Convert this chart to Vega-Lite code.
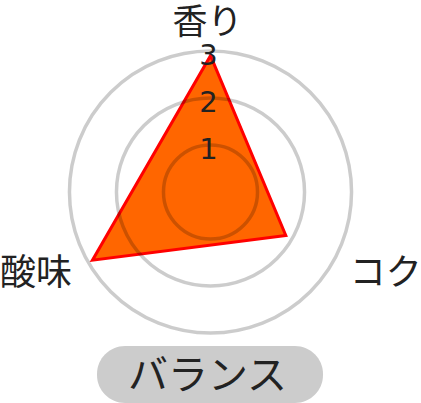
{
  "$schema": "https://vega.github.io/schema/vega-lite/v6.json",
  "width": 421,
  "height": 384,
  "autosize": {"type": "none"},
  "padding": {"left": 0, "top": 0, "right": 0, "bottom": 19},
  "background": "white",
  "config": {"view": {"stroke": null}, "text": {"font": "Noto Sans CJK JP", "color": "#222222"}},
  "datasets": {
    "scores": [
      {"axis": "香り", "idx": 0, "value": 2.9},
      {"axis": "コク", "idx": 1, "value": 1.85},
      {"axis": "酸味", "idx": 2, "value": 2.9}
    ],
    "rings": [{"r": 1}, {"r": 2}, {"r": 3}],
    "badge": [{"label": "バランス"}]
  },
  "layer": [
    {
      "data": {"name": "scores"},
      "transform": [
        {"calculate": "datum.value * sin(datum.idx * 2 * PI / 3)", "as": "px"},
        {"calculate": "datum.value * cos(datum.idx * 2 * PI / 3)", "as": "py"}
      ],
      "mark": {"type": "line", "interpolate": "linear-closed", "fill": "#ff6600", "stroke": "#ff0000", "strokeWidth": 3, "strokeJoin": "miter"},
      "encoding": {
        "x": {"field": "px", "type": "quantitative", "scale": {"domain": [-4.4787, 4.4787], "nice": false}, "axis": null},
        "y": {"field": "py", "type": "quantitative", "scale": {"domain": [-4.0851, 4.0851], "nice": false}, "axis": null},
        "order": {"field": "idx"}
      }
    },
    {
      "data": {"name": "rings"},
      "mark": {"type": "arc", "theta": 0, "theta2": 6.2832, "filled": false, "stroke": "#000000", "strokeOpacity": 0.2, "strokeWidth": 3.5},
      "encoding": {
        "radius": {"field": "r", "type": "quantitative", "stack": null, "scale": {"type": "linear", "domain": [0, 3], "range": [0, 141], "zero": true}}
      }
    },
    {
      "data": {"name": "rings"},
      "mark": {"type": "text", "theta": 0, "fontSize": 29, "font": "DejaVu Sans", "baseline": "middle", "dy": 5, "dx": -2},
      "encoding": {
        "radius": {"field": "r", "type": "quantitative", "stack": null, "scale": {"type": "linear", "domain": [0, 3], "range": [0, 141], "zero": true}},
        "text": {"field": "r", "type": "quantitative"}
      }
    },
    {
      "data": {"name": "scores"},
      "transform": [{"filter": "datum.idx == 0"}],
      "mark": {"type": "text", "fontSize": 35, "align": "center", "baseline": "middle", "dx": -3},
      "encoding": {
        "theta": {"field": "idx", "type": "quantitative", "scale": {"domain": [0, 3], "range": [0, 6.2832]}},
        "radius": {"datum": 3.6, "type": "quantitative", "scale": {"type": "linear", "domain": [0, 3], "range": [0, 141], "zero": true}},
        "text": {"field": "axis"}
      }
    },
    {
      "data": {"name": "scores"},
      "transform": [{"filter": "datum.idx == 1"}],
      "mark": {"type": "text", "fontSize": 36, "align": "left", "baseline": "middle", "dy": 2},
      "encoding": {
        "theta": {"field": "idx", "type": "quantitative", "scale": {"domain": [0, 3], "range": [0, 6.2832]}},
        "radius": {"datum": 3.42, "type": "quantitative", "scale": {"type": "linear", "domain": [0, 3], "range": [0, 141], "zero": true}},
        "text": {"field": "axis"}
      }
    },
    {
      "data": {"name": "scores"},
      "transform": [{"filter": "datum.idx == 2"}],
      "mark": {"type": "text", "fontSize": 36, "align": "right", "baseline": "middle", "dy": 2},
      "encoding": {
        "theta": {"field": "idx", "type": "quantitative", "scale": {"domain": [0, 3], "range": [0, 6.2832]}},
        "radius": {"datum": 3.4, "type": "quantitative", "scale": {"type": "linear", "domain": [0, 3], "range": [0, 141], "zero": true}},
        "text": {"field": "axis"}
      }
    },
    {
      "data": {"name": "badge"},
      "mark": {"type": "rect", "fill": "#cccccc", "cornerRadius": 28},
      "encoding": {
        "x": {"datum": -2.415, "type": "quantitative", "scale": {"domain": [-4.4787, 4.4787], "nice": false}},
        "x2": {"datum": 2.394},
        "y": {"datum": -3.277, "type": "quantitative", "scale": {"domain": [-4.0851, 4.0851], "nice": false}},
        "y2": {"datum": -4.489}
      }
    },
    {
      "data": {"name": "badge"},
      "mark": {"type": "text", "fontSize": 40, "align": "center", "baseline": "middle"},
      "encoding": {
        "x": {"datum": -0.064, "type": "quantitative", "scale": {"domain": [-4.4787, 4.4787], "nice": false}},
        "y": {"datum": -3.93, "type": "quantitative", "scale": {"domain": [-4.0851, 4.0851], "nice": false}},
        "text": {"field": "label"}
      }
    }
  ]
}
